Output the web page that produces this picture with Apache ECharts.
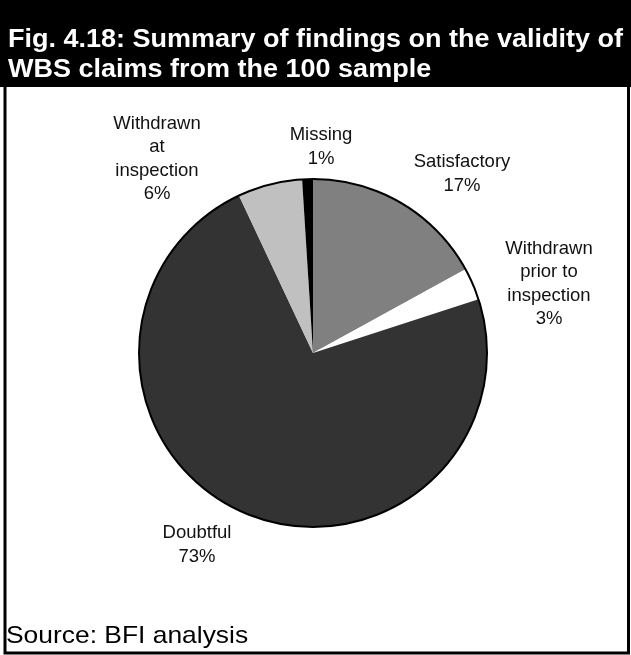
<!DOCTYPE html>
<html>
<head>
<meta charset="utf-8">
<script src="https://cdn.jsdelivr.net/npm/echarts@6/dist/echarts.min.js"></script>
<style>
  html, body { margin: 0; padding: 0; background: #fff; }
  #chart { width: 631px; height: 655px; }
</style>
</head>
<body>
<div id="chart"></div>
<script>
// ---- data ----
const categories = [
  'Satisfactory',
  'Withdrawn\nprior to\ninspection',
  'Doubtful',
  'Withdrawn\nat\ninspection',
  'Missing'
];
const values = [17, 3, 73, 6, 1];
const titleLines = [
  'Fig. 4.18: Summary of findings on the validity of',
  'WBS claims from the 100 sample'
];
const sourceText = 'Source: BFI analysis';

// ---- styling ----
const sliceColors = ['#808080', '#ffffff', '#333333', '#c0c0c0', '#000000'];
const labelAnchors = [[462, 174], [549, 284], [197, 545], [157, 159], [321, 147]];
const pieCenter = [313, 353];
const pieRadius = 174;

const chart = echarts.init(document.getElementById('chart'), null, { renderer: 'canvas' });

const option = {
  backgroundColor: '#ffffff',
  animation: false,
  graphic: [
    { type: 'rect', shape: { x: 0, y: 0, width: 631, height: 87 }, style: { fill: '#000' }, z: 0 },
    { type: 'rect', shape: { x: 5, y: 1, width: 623.5, height: 652 }, style: { fill: 'none', stroke: '#000', lineWidth: 3 }, z: 0 },
    { type: 'text', x: 8, y: 40, scaleX: 1.08, z: 5,
      style: { text: titleLines[0], fill: '#fff', fontFamily: 'Liberation Sans, Arial', fontWeight: 'bold', fontSize: 25, verticalAlign: 'middle' } },
    { type: 'text', x: 8, y: 70, scaleX: 1.08, z: 5,
      style: { text: titleLines[1], fill: '#fff', fontFamily: 'Liberation Sans, Arial', fontWeight: 'bold', fontSize: 25, verticalAlign: 'middle' } },
    { type: 'text', x: 6, y: 636, scaleX: 1.1, z: 5,
      style: { text: sourceText, fill: '#000', fontFamily: 'Liberation Sans, Arial', fontSize: 24, verticalAlign: 'middle' } }
  ],
  series: [
    {
      type: 'pie',
      center: pieCenter,
      radius: pieRadius,
      startAngle: 90,
      clockwise: true,
      avoidLabelOverlap: false,
      data: categories.map((c, i) => ({
        name: c,
        value: values[i],
        itemStyle: { color: sliceColors[i] }
      })),
      itemStyle: { borderWidth: 0 },
      emphasis: { disabled: true },
      label: {
        show: true,
        position: 'outside',
        formatter: '{b}\n{d}%',
        fontFamily: 'Liberation Sans, Arial',
        fontSize: 18.5,
        lineHeight: 23.5,
        color: '#111',
        align: 'center',
        verticalAlign: 'middle'
      },
      labelLine: { show: false },
      labelLayout: function (p) {
        const a = labelAnchors[p.dataIndex];
        return { x: a[0], y: a[1], align: 'center', verticalAlign: 'middle' };
      }
    },
    {
      type: 'pie',
      center: pieCenter,
      radius: pieRadius,
      silent: true,
      data: [{ value: 1, name: '' }],
      itemStyle: { color: 'transparent', borderColor: '#000', borderWidth: 2 },
      label: { show: false },
      labelLine: { show: false },
      emphasis: { disabled: true }
    }
  ]
};
chart.setOption(option);
</script>
</body>
</html>
